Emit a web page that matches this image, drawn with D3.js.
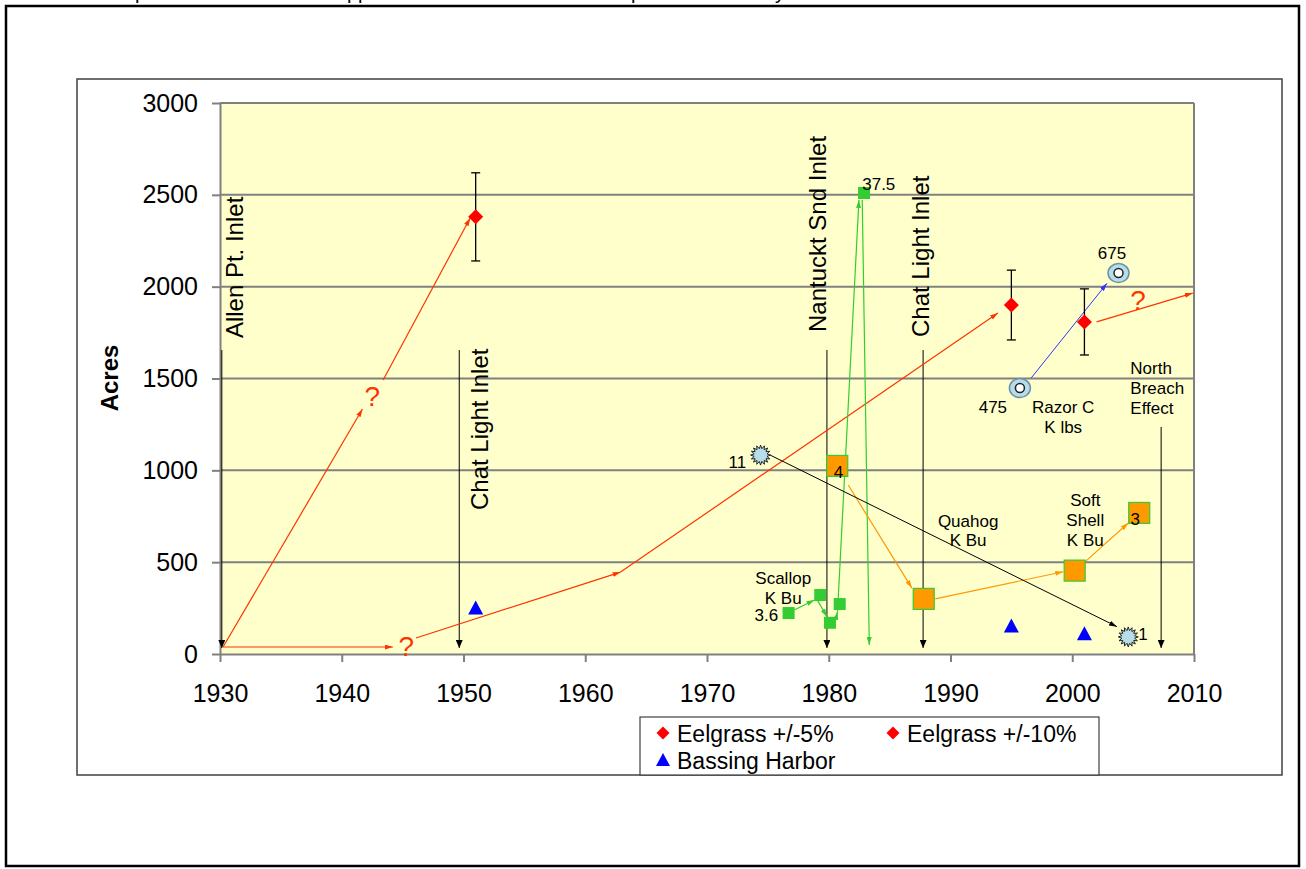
<!DOCTYPE html>
<html>
<head>
<meta charset="utf-8">
<script src="https://cdn.jsdelivr.net/npm/d3@7"></script>
<style>
  body { margin: 0; background: #fff; }
  text { font-family: Arial, "Liberation Sans", sans-serif; }
</style>
</head>
<body>
<svg id="chart" width="1306" height="869"></svg>
<script>
// ---- data (years on x, acres on y) ----
const yearTicks = [1930, 1940, 1950, 1960, 1970, 1980, 1990, 2000, 2010];
const acreTicks = [0, 500, 1000, 1500, 2000, 2500, 3000];

const eelYears = [1951, 1995, 2001];
const eelAcres = [2380, 1900, 1808];
const eelErr = [240, 190, 180];

const bassingYears = [1951, 1995, 2001];
const bassingAcres = [250, 152, 110];

const scallopYears = [1976.7, 1979.3, 1980.1, 1980.9, 1982.9];
const scallopAcres = [223, 321, 170, 272, 2510];

const softShellYears = [1980.7, 1987.8, 2000.2, 2005.5];
const softShellAcres = [1024, 300, 454, 768];

const quahogYears = [1974.4, 2004.6];
const quahogAcres = [1083, 93];

const razorYears = [1995.7, 2003.8];
const razorAcres = [1448, 2074];

// arrow segments: [year1, acres1, year2, acres2]
const redArrows = [
  [1930.25, 38, 1941.7, 1334],
  [1943.4, 1492, 1950.55, 2374],
  [1930.25, 38, 1944.2, 38],
  [1946.1, 87, 1962.9, 446],
  [1962.9, 446, 1993.9, 1857],
  [2002.0, 1808, 2009.9, 1965]
];
const greenArrows = [
  [1977.16, 240, 1978.83, 294],
  [1979.02, 299, 1979.85, 203],
  [1980.53, 176, 1980.72, 230],
  [1980.72, 230, 1982.48, 2472],
  [1982.75, 2472, 1983.33, 49]
];
const orangeArrows = [
  [1981.6, 920, 1986.83, 359],
  [1988.74, 300, 1999.26, 448],
  [2001.07, 503, 2004.6, 713]
];
const quahogArrow = [[1975.19, 1083, 2003.67, 149]];
const razorArrow = [[1996.63, 1503, 2002.85, 2018]];

// inlet events
const inletYears = [1930.15, 1949.65, 1979.85, 1987.75, 2007.3];
const inletTops = [1655, 1655, 1655, 1655, 1236];
const inletNames = ["Allen Pt. Inlet", "Chat Light Inlet", "Nantuckt Snd Inlet", "Chat Light Inlet"];
const inletLabelYears = [1931.9, 1952.0, 1979.78, 1988.25];
const inletLabelAcres = [1720, 784, 1753, 1726];

const questionYears = [1942.5, 1945.3, 2005.4];
const questionAcres = [1352, -12, 1873];

// small annotation labels
const noteText = ["3.6", "Scallop", "K Bu", "37.5", "11", "4", "3", "1", "475", "675",
  "Razor C", "K lbs", "Quahog", "K Bu", "Soft", "Shell", "K Bu", "North", "Breach", "Effect"];
const noteYears = [1975.85, 1976.26, 1976.26, 1982.75, 1973.22, 1980.8, 2005.18, 2005.42, 1993.48, 2003.26,
  1999.26, 1999.26, 1991.45, 1991.45, 2001.07, 2001.07, 2001.07, 2004.77, 2004.77, 2004.77];
const noteAcres = [180, 383, 270, 2526, 1013, 958, 702, 76, 1312, 2151,
  1312, 1203, 691, 588, 806, 697, 588, 1524, 1416, 1307];
const noteAnchor = ["end", "middle", "middle", "start", "end", "middle", "middle", "start", "middle", "middle",
  "middle", "middle", "middle", "middle", "middle", "middle", "middle", "start", "start", "start"];

// ---- drawing ----
const svg = d3.select("#chart");
const x = d3.scaleLinear().domain([1930, 2010]).range([220, 1194]);
const y = d3.scaleLinear().domain([0, 3000]).range([654, 103]);

const defs = svg.append("defs");
function marker(id, color, len, wid) {
  defs.append("marker")
    .attr("id", id)
    .attr("markerUnits", "userSpaceOnUse")
    .attr("markerWidth", len)
    .attr("markerHeight", wid)
    .attr("refX", len)
    .attr("refY", wid / 2)
    .attr("orient", "auto")
    .append("path")
    .attr("d", `M0,0L${len},${wid / 2}L0,${wid}Z`)
    .attr("fill", color);
  return `url(#${id})`;
}

// cut-off text from the page above
svg.append("g")
  .selectAll("text")
  .data([[135, "p"], [347, "pp"], [631, "p"], [775, "y"]])
  .join("text")
  .attr("x", (d) => d[0])
  .attr("y", -1)
  .attr("font-family", "Liberation Serif, Times New Roman, serif")
  .attr("font-size", 20)
  .text((d) => d[1]);

// outer page frame
svg.append("rect")
  .attr("x", 6).attr("y", 6).attr("width", 1293).attr("height", 860)
  .attr("fill", "none").attr("stroke", "#000").attr("stroke-width", 2.5);

// chart area
svg.append("rect")
  .attr("x", 77).attr("y", 79).attr("width", 1205).attr("height", 696)
  .attr("fill", "#fff").attr("stroke", "#404040").attr("stroke-width", 1.5);

// plot area
svg.append("rect")
  .attr("x", x(1930)).attr("y", y(3000))
  .attr("width", x(2010) - x(1930)).attr("height", y(0) - y(3000))
  .attr("fill", "#FFFFCC");

// gridlines
svg.append("g")
  .selectAll("line")
  .data(acreTicks.filter((d) => d > 0))
  .join("line")
  .attr("x1", x(1930)).attr("x2", x(2010))
  .attr("y1", (d) => y(d)).attr("y2", (d) => y(d))
  .attr("stroke", "#808080").attr("stroke-width", 2);
svg.append("line")
  .attr("x1", x(2010)).attr("x2", x(2010)).attr("y1", y(0)).attr("y2", y(3000))
  .attr("stroke", "#808080").attr("stroke-width", 2);

// axes
const yAxis = svg.append("g")
  .attr("transform", `translate(${x(1930)},0)`)
  .call(d3.axisLeft(y).tickValues(acreTicks).tickFormat(d3.format("d"))
    .tickSize(8).tickSizeOuter(0).tickPadding(14));
const xAxis = svg.append("g")
  .attr("transform", `translate(0,${y(0)})`)
  .call(d3.axisBottom(x).tickValues(yearTicks).tickFormat(d3.format("d"))
    .tickSize(8).tickSizeOuter(0).tickPadding(22));
[yAxis, xAxis].forEach((g) => {
  g.select(".domain").attr("stroke", "#808080").attr("stroke-width", 2);
  g.selectAll(".tick line").attr("stroke", "#808080").attr("stroke-width", 2);
  g.selectAll("text").attr("font-size", 25).attr("fill", "#000")
    .attr("font-family", "Arial, Liberation Sans, sans-serif");
});

svg.append("text")
  .attr("transform", "translate(118,378) rotate(-90)")
  .attr("text-anchor", "middle")
  .attr("font-size", 24).attr("font-weight", "bold")
  .text("Acres");

// inlet event lines
const blackHead = marker("hBlack", "#000", 8, 7);
svg.append("g")
  .selectAll("line")
  .data(inletYears)
  .join("line")
  .attr("x1", (d) => x(d)).attr("x2", (d) => x(d))
  .attr("y1", (d, i) => y(inletTops[i])).attr("y2", y(33))
  .attr("stroke", "#000").attr("stroke-width", 1)
  .attr("marker-end", blackHead);

svg.append("g")
  .selectAll("text")
  .data(inletNames)
  .join("text")
  .attr("transform", (d, i) => `translate(${x(inletLabelYears[i])},${y(inletLabelAcres[i])}) rotate(-90)`)
  .attr("font-size", 24)
  .text((d) => d);

// arrows
function arrows(data, color, id, width) {
  const head = marker(id, color, 8, 5);
  svg.append("g")
    .selectAll("line")
    .data(data)
    .join("line")
    .attr("x1", (d) => x(d[0])).attr("y1", (d) => y(d[1]))
    .attr("x2", (d) => x(d[2])).attr("y2", (d) => y(d[3]))
    .attr("stroke", color).attr("stroke-width", width)
    .attr("marker-end", head);
}
arrows(redArrows, "#FF3300", "hRed", 1.2);
arrows(greenArrows, "#33CC33", "hGreen", 1.2);
arrows(orangeArrows, "#FF9900", "hOrange", 1.2);
arrows(quahogArrow, "#000", "hBlack2", 1);
arrows(razorArrow, "#3333FF", "hBlue", 1);

// question marks
svg.append("g")
  .selectAll("text")
  .data(questionYears)
  .join("text")
  .attr("x", (d) => x(d))
  .attr("y", (d, i) => y(questionAcres[i]))
  .attr("text-anchor", "middle")
  .attr("font-size", 28)
  .attr("fill", "#FF3300")
  .text("?");

// eelgrass error bars + diamonds
const eel = svg.append("g");
eelYears.forEach((yr, i) => {
  const cx = x(yr);
  eel.append("line")
    .attr("x1", cx).attr("x2", cx)
    .attr("y1", y(eelAcres[i] + eelErr[i])).attr("y2", y(eelAcres[i] - eelErr[i]))
    .attr("stroke", "#000").attr("stroke-width", 1.3);
  [eelAcres[i] + eelErr[i], eelAcres[i] - eelErr[i]].forEach((v) => {
    eel.append("line")
      .attr("x1", cx - 4.5).attr("x2", cx + 4.5)
      .attr("y1", y(v)).attr("y2", y(v))
      .attr("stroke", "#000").attr("stroke-width", 1.3);
  });
});
const diamond = (r) => `M0,${-r}L${r},0L0,${r}L${-r},0Z`;
eel.selectAll("path")
  .data(eelYears)
  .join("path")
  .attr("d", diamond(7.5))
  .attr("transform", (d, i) => `translate(${x(d)},${y(eelAcres[i])})`)
  .attr("fill", "#FF0000");

// bassing harbor triangles
const tri = (w, h) => `M0,${-h / 2 - 1}L${w / 2},${h / 2}L${-w / 2},${h / 2}Z`;
svg.append("g")
  .selectAll("path")
  .data(bassingYears)
  .join("path")
  .attr("d", tri(15, 13))
  .attr("transform", (d, i) => `translate(${x(d)},${y(bassingAcres[i])})`)
  .attr("fill", "#0000FF");

// scallop squares
svg.append("g")
  .selectAll("rect")
  .data(scallopYears)
  .join("rect")
  .attr("x", (d) => x(d) - 6).attr("y", (d, i) => y(scallopAcres[i]) - 6)
  .attr("width", 12).attr("height", 12)
  .attr("fill", "#33CC33");

// soft shell squares
svg.append("g")
  .selectAll("rect")
  .data(softShellYears)
  .join("rect")
  .attr("x", (d) => x(d) - 10.5).attr("y", (d, i) => y(softShellAcres[i]) - 10.5)
  .attr("width", 21).attr("height", 21)
  .attr("fill", "#FF9900").attr("stroke", "#33CC33").attr("stroke-width", 1.2);

// quahog sun symbols
const sun = d3.range(32).map((k) => {
  const a = (k / 32) * 2 * Math.PI;
  const r = k % 2 == 0 ? 10 : 6.5;
  return [r * Math.sin(a), -r * Math.cos(a)];
});
svg.append("g")
  .selectAll("path")
  .data(quahogYears)
  .join("path")
  .attr("d", d3.line()(sun) + "Z")
  .attr("transform", (d, i) => `translate(${x(d)},${y(quahogAcres[i])})`)
  .attr("fill", "#B7DEE8").attr("stroke", "#222").attr("stroke-width", 1);

// razor clam rings
const razor = svg.append("g");
razor.selectAll("ellipse")
  .data(razorYears)
  .join("ellipse")
  .attr("cx", (d) => x(d)).attr("cy", (d, i) => y(razorAcres[i]))
  .attr("rx", 10.5).attr("ry", 9.5)
  .attr("fill", "#B7DEE8").attr("stroke", "#6E8FA8").attr("stroke-width", 1.5);
razor.selectAll("circle")
  .data(razorYears)
  .join("circle")
  .attr("cx", (d) => x(d)).attr("cy", (d, i) => y(razorAcres[i]))
  .attr("r", 4.5)
  .attr("fill", "#fff").attr("stroke", "#222").attr("stroke-width", 1.5);

// annotation labels
svg.append("g")
  .selectAll("text")
  .data(noteText)
  .join("text")
  .attr("x", (d, i) => x(noteYears[i]))
  .attr("y", (d, i) => y(noteAcres[i]))
  .attr("text-anchor", (d, i) => noteAnchor[i])
  .attr("font-size", 17)
  .text((d) => d);

// legend
const leg = svg.append("g");
leg.append("rect")
  .attr("x", 640).attr("y", 717).attr("width", 459).attr("height", 58)
  .attr("fill", "#fff").attr("stroke", "#404040").attr("stroke-width", 1.2);
const legItems = [
  { label: "Eelgrass +/-5%", shape: "diamond", color: "#FF0000", lx: 663, ly: 733 },
  { label: "Eelgrass +/-10%", shape: "diamond", color: "#FF0000", lx: 893, ly: 733 },
  { label: "Bassing Harbor", shape: "triangle", color: "#0000FF", lx: 663, ly: 760 }
];
legItems.forEach((d) => {
  leg.append("path")
    .attr("d", d.shape == "diamond" ? diamond(6.5) : tri(14, 12))
    .attr("transform", `translate(${d.lx},${d.ly})`)
    .attr("fill", d.color);
  leg.append("text")
    .attr("x", d.lx + 14).attr("y", d.ly + 8.5)
    .attr("font-size", 23)
    .text(d.label);
});
</script>
</body>
</html>
